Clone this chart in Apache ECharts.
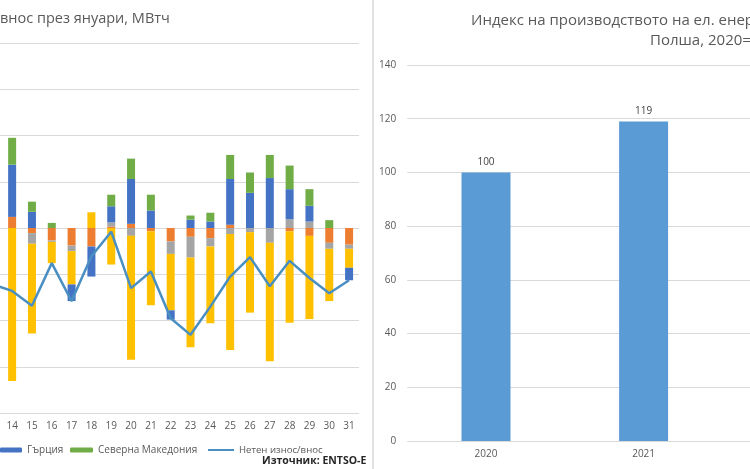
<!DOCTYPE html>
<html>
<head>
<meta charset="utf-8">
<script src="https://cdn.jsdelivr.net/npm/echarts@6/dist/echarts.min.js"></script>
<style>
    html, body { margin: 0; padding: 0; background: #fff; }
    #chart { width: 750px; height: 469px; }
</style>
</head>
<body>
<div id="chart"></div>
<script>
// left chart: daily cross-border flows (only days 13..31 fall inside the picture)
var days = ['13', '14', '15', '16', '17', '18', '19', '20', '21', '22', '23', '24', '25', '26', '27', '28', '29', '30', '31'];
var serbia    = ['-', 24, -11, -27, -38, -40, 3, 9, -7, -29, -19, -22, 7, 0, 0, -7, -17, -32, -36];
var turkey    = ['-', 0, -23, -3, -12, 0, 9, -17, 0, -27, -45, -18, -13, -9, -32, 19, 14, -13, -9];
var romania   = ['-', -331, -194, -46, -72, 34, -79, -268, -160, -122, -194, -166, -251, -174, -256, -198, -180, -113, -41];
var greece    = ['-', 113, 35, 0, -36, -65, 35, 97, 38, -20, 18, 14, 99, 76, 108, 65, 34, 0, -27];
var macedonia = ['-', 58, 22, 11, 0, 0, 25, 44, 34, 0, 9, 19, 52, 44, 50, 51, 36, 17, 0];
var netFlow   = [-122, -136, -168, -76, -158, -61, -8, -130, -94, -195, -231, -170, -105, -63, -126, -71, -108, -141, -113];

// right chart: production index, 2020 = 100
var years = ['2020', '2021', '2022'];
var indexValues = [100, 119, '-'];

var font = 'Open Sans';
var gray = '#595959';

function barSeries(name, data, color) {
    return {
        name: name,
        type: 'bar',
        stack: 'total',
        xAxisIndex: 0,
        yAxisIndex: 0,
        barWidth: 8,
        itemStyle: { color: color },
        data: data
    };
}

var myChart = echarts.init(document.getElementById('chart'));

option = {
    animation: false,
    textStyle: { fontFamily: font },
    title: [
        {
            text: 'внос през януари, МВтч',
            left: 0, top: 11, padding: 0,
            textStyle: { fontSize: 14.5, fontWeight: 'normal', color: gray, fontFamily: font }
        },
        {
            text: 'Индекс на производството на ел. енергия',
            left: 471, top: 13, padding: 0,
            textStyle: { fontSize: 15, fontWeight: 'normal', color: gray, fontFamily: font }
        },
        {
            text: 'Полша, 2020=100',
            left: 650, top: 33, padding: 0,
            textStyle: { fontSize: 15, fontWeight: 'normal', color: gray, fontFamily: font }
        },
        {
            text: 'Източник: ENTSO-E',
            left: 262, top: 456, padding: 0,
            textStyle: { fontSize: 10.5, fontWeight: 'bold', color: '#262626', fontFamily: font }
        }
    ],
    legend: [
        {
            data: ['Гърция'],
            left: 0, top: 445, padding: 0,
            itemWidth: 22, itemHeight: 5,
            textStyle: { fontSize: 10, color: gray }
        },
        {
            data: ['Северна Македония'],
            left: 70, top: 445, padding: 0,
            itemWidth: 23, itemHeight: 5,
            textStyle: { fontSize: 10, color: gray }
        },
        {
            data: [{ name: 'Нетен износ/внос', icon: 'rect' }],
            left: 208, top: 445, padding: 0,
            itemWidth: 26, itemHeight: 2,
            textStyle: { fontSize: 9.6, color: gray }
        }
    ],
    grid: [
        { left: -17.6, right: 391, top: 43, bottom: 56, outerBoundsMode: 'none' },
        { left: 407.2, right: -130, top: 65, bottom: 28, outerBoundsMode: 'none' }
    ],
    xAxis: [
        {
            type: 'category',
            gridIndex: 0,
            data: days,
            axisLine: { show: false, onZero: false },
            axisTick: { show: false },
            axisLabel: { fontSize: 10, color: gray, margin: 8 }
        },
        {
            type: 'category',
            gridIndex: 1,
            data: years,
            axisLine: { show: false },
            axisTick: { show: false },
            axisLabel: { fontSize: 10, color: gray, margin: 8 }
        }
    ],
    yAxis: [
        {
            type: 'value',
            gridIndex: 0,
            min: -400, max: 400, interval: 100,
            axisLabel: { show: false },
            splitLine: { lineStyle: { color: '#d9d9d9' } }
        },
        {
            type: 'value',
            gridIndex: 1,
            min: 0, max: 140, interval: 20,
            axisLabel: { fontSize: 10, color: gray, margin: 11 },
            splitLine: { lineStyle: { color: '#d9d9d9' } }
        }
    ],
    series: [
        barSeries('Сърбия', serbia, '#ED7D31'),
        barSeries('Турция', turkey, '#A5A5A5'),
        barSeries('Румъния', romania, '#FFC000'),
        barSeries('Гърция', greece, '#4472C4'),
        barSeries('Северна Македония', macedonia, '#70AD47'),
        {
            name: 'Нетен износ/внос',
            type: 'line',
            xAxisIndex: 0,
            yAxisIndex: 0,
            showSymbol: false,
            symbol: 'none',
            lineStyle: { width: 2.5, color: '#4a8fc2' },
            itemStyle: { color: '#4a8fc2' },
            data: netFlow
        },
        {
            name: 'Индекс',
            type: 'bar',
            xAxisIndex: 1,
            yAxisIndex: 1,
            barWidth: 49,
            itemStyle: { color: '#5B9BD5' },
            label: {
                show: true,
                position: 'top',
                distance: 5,
                fontSize: 10,
                color: '#404040'
            },
            data: indexValues
        }
    ],
    graphic: [
        {
            type: 'line',
            shape: { x1: 373, y1: 0, x2: 373, y2: 469 },
            style: { stroke: '#d9d9d9', lineWidth: 1.5 }
        }
    ]
};

myChart.setOption(option);
</script>
</body>
</html>
